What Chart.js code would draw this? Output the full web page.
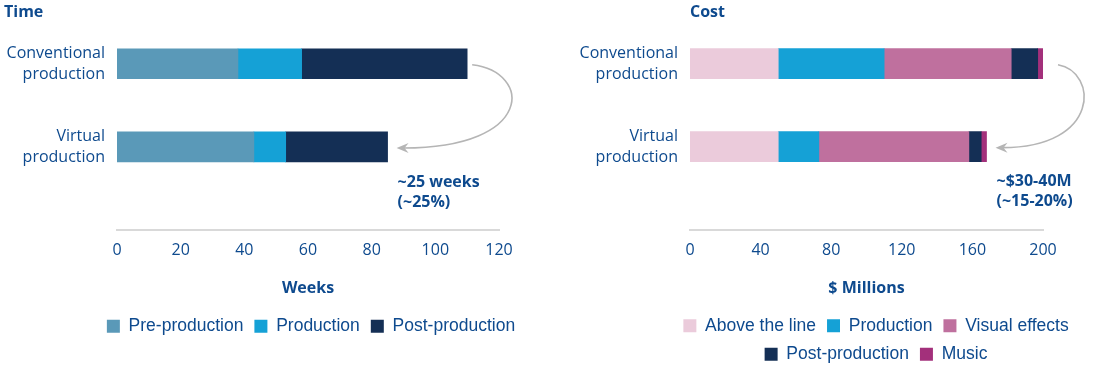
<!DOCTYPE html>
<html>
<head>
<meta charset="utf-8">
<script src="https://cdn.jsdelivr.net/npm/chart.js@4.4.1/dist/chart.umd.min.js"></script>
<style>
  html, body { margin: 0; padding: 0; background: #fff; overflow: hidden; }
  body { width: 1100px; height: 367px; position: relative; }
  .box { position: absolute; top: 0; height: 367px; }
  #timeBox { left: 0; width: 620px; }
  #costBox { left: 560px; width: 540px; }
</style>
</head>
<body>
<div class="box" id="timeBox"><canvas id="timeChart"></canvas></div>
<div class="box" id="costBox"><canvas id="costChart"></canvas></div>
<script>
// rows shared by both panels
const rows = [['Conventional', 'production'], ['Virtual', 'production']];

// Time panel (weeks)
const timePhases = ['Pre-production', 'Production', 'Post-production'];
const timeValues = [[38, 43], [20, 10], [52, 32]];
const timeTicks = [0, 20, 40, 60, 80, 100, 120];
const timeColors = ['#5a99b8', '#15a1d6', '#142f55'];
const timeSaving = ['~25 weeks', '(~25%)'];

// Cost panel ($ millions)
const costItems = ['Above the line', 'Production', 'Visual effects', 'Post-production', 'Music'];
const costValues = [[50, 50], [60, 23], [72, 85], [15, 7], [3, 3]];
const costTicks = [0, 40, 80, 120, 160, 200];
const costColors = ['#ebcbdb', '#15a1d6', '#bf709e', '#142f55', '#a3307b'];
const costSaving = ['~$30-40M', '(~15-20%)'];

const navy = '#0e4a8e';
Chart.defaults.font.family = '"Open Sans", sans-serif';
Chart.defaults.font.size = 16;
Chart.defaults.color = navy;

// curved grey arrow from the conventional bar to the virtual bar + saving note
const savingsArrow = {
  id: 'savingsArrow',
  afterDatasetsDraw(chart, args, o) {
    const {ctx} = chart;
    const x = chart.scales.x, y = chart.scales.y;
    const tot = [0, 1].map(i => chart.data.datasets.reduce((s, d) => s + d.data[i].x, 0));
    const sx = x.getPixelForValue(tot[0]) + o.startGap, sy = y.getPixelForValue(0) + 1;
    const ex = x.getPixelForValue(tot[1]) + 9, ey = y.getPixelForValue(1) + 1;

    ctx.save();
    ctx.strokeStyle = '#b5b5b5';
    ctx.fillStyle = '#b5b5b5';
    ctx.lineWidth = 1.6;
    ctx.beginPath();
    ctx.moveTo(sx, sy);
    ctx.bezierCurveTo(sx + o.reach, sy + 7, sx + o.reach + 3, ey, ex + 7, ey);
    ctx.stroke();
    ctx.beginPath();
    ctx.moveTo(ex, ey);
    ctx.lineTo(ex + 12, ey - 5);
    ctx.lineTo(ex + 8, ey);
    ctx.lineTo(ex + 12, ey + 5);
    ctx.closePath();
    ctx.fill();

    ctx.fillStyle = navy;
    ctx.font = 'bold 16px "Open Sans", sans-serif';
    ctx.textAlign = 'left';
    ctx.textBaseline = 'middle';
    o.text.forEach((t, i) => ctx.fillText(t, ex + 1, ey + 34 + i * 20));
    ctx.restore();
  }
};

function makeChart(id, o) {
  new Chart(document.getElementById(id), {
    type: 'bar',
    data: {
      datasets: o.names.map((n, k) => ({
        label: n,
        data: o.values[k].map((v, i) => ({x: v, y: i})),
        backgroundColor: o.colors[k],
        borderWidth: 0,
        barThickness: 30
      }))
    },
    options: {
      indexAxis: 'y',
      responsive: true,
      maintainAspectRatio: false,
      animation: false,
      layout: {padding: o.pad},
      scales: {
        x: {
          type: 'linear',
          stacked: true,
          min: o.ticks[0],
          max: o.ticks[o.ticks.length - 1],
          grid: {display: false, drawTicks: false},
          border: {display: true, color: '#d9d9d9', width: 2},
          afterBuildTicks: s => { s.ticks = o.ticks.map(v => ({value: v})); },
          afterFit: s => { s.paddingRight = o.padRight; },
          ticks: {padding: 11, color: navy, font: {size: 16}},
          title: {display: true, text: o.axisTitle, color: navy,
                  font: {size: 16, weight: 'bold'}, padding: {top: 8, bottom: 8}}
        },
        y: {
          type: 'linear',
          stacked: true,
          reverse: true,
          offset: false,
          min: -0.5,
          max: 2,
          grid: {display: false, drawTicks: false},
          border: {display: false},
          afterBuildTicks: s => { s.ticks = rows.map((r, i) => ({value: i})); },
          afterFit: s => {
            s.width = o.yWidth;
            s.paddingTop = 0;
            s.paddingBottom = 0;
            s._computeLabelArea = () => undefined; // labels may run past the axis box
          },
          ticks: {callback: v => rows[v], padding: 12, color: navy,
                  font: {size: 16, lineHeight: 1.3}}
        }
      },
      plugins: {
        title: {display: true, text: o.title, align: 'start', fullSize: o.titleFull,
                color: navy, font: {size: 16, weight: 'bold'}, padding: {top: 3, bottom: 0}},
        legend: {
          position: 'bottom',
          labels: {boxWidth: 13, boxHeight: 13, padding: 11, color: navy,
                   font: {family: '"Liberation Sans", Arial, sans-serif', size: 17.5}}
        },
        tooltip: {enabled: false},
        savingsArrow: {text: o.saving, startGap: o.startGap, reach: o.reach}
      }
    },
    plugins: [savingsArrow]
  });
}

makeChart('timeChart', {
  title: 'Time', titleFull: true, axisTitle: 'Weeks',
  names: timePhases, values: timeValues, colors: timeColors, ticks: timeTicks,
  saving: timeSaving, startGap: 5, reach: 60,
  pad: {left: 4, right: 2, top: 0, bottom: 22}, yWidth: 113, padRight: 121
});

makeChart('costChart', {
  title: 'Cost', titleFull: false, axisTitle: '$ Millions',
  names: costItems, values: costValues, colors: costColors, ticks: costTicks,
  saving: costSaving, startGap: 15, reach: 40,
  pad: {left: 92, right: 0, top: 0, bottom: -6}, yWidth: 38, padRight: 57
});
</script>
</body>
</html>
